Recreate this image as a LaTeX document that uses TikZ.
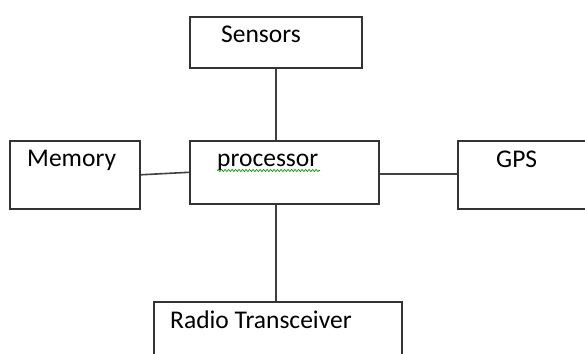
\documentclass[tikz,border=0pt]{standalone}
\usepackage{fontspec}
\setmainfont{Carlito}
\usetikzlibrary{decorations.pathmorphing}
\begin{document}
\begin{tikzpicture}[x=1pt,y=-1pt,
  box/.style={draw=black!80, line width=1.6pt, rectangle, inner sep=0pt, anchor=north west},
  lbl/.style={anchor=base west, inner sep=0pt, text=black, font=\fontsize{25.5}{30}\selectfont},
  wire/.style={draw=black!75, line width=1.6pt}]
\useasboundingbox (0,0) rectangle (585,353);
\clip (0,0) rectangle (585,353);
\fill[white] (0,0) rectangle (585,353);
% boxes
\node[box, minimum width=172pt, minimum height=51pt] (sensors) at (189,16) {};
\node[box, minimum width=189pt, minimum height=63pt] (proc) at (189,140) {};
\node[box, minimum width=130pt, minimum height=68pt] (mem) at (9,140) {};
\node[box, minimum width=150pt, minimum height=68pt] (gps) at (457,140) {};
\node[box, minimum width=248pt, minimum height=80pt] (radio) at (153,301) {};
% labels
\node[lbl] (tsens) at (221,43) {Sensors};
\node[lbl] (tproc) at (217,166) {processor};
\node[lbl] (tmem) at (27,166) {Memory};
\node[lbl] (tgps) at (496,167) {GPS};
\node[lbl] (tradio) at (170,328) {Radio Transceiver};
% spell-check squiggle
\draw[green!60!black, line width=0.7pt, decorate, decoration={snake, amplitude=1pt, segment length=3.5pt}]
  (tproc.base west) ++(0,4.5) -- ++(103,0);
% connectors
\draw[wire] (sensors.south) -- (sensors.south |- proc.north);
\draw[wire] (mem.east) -- (proc.west);
\draw[wire] ([yshift=-1.5pt]proc.east) -- ([yshift=-1.5pt]proc.east -| gps.west);
\draw[wire] (proc.south -| sensors.south) -- (radio.north -| sensors.south);
\end{tikzpicture}
\end{document}
